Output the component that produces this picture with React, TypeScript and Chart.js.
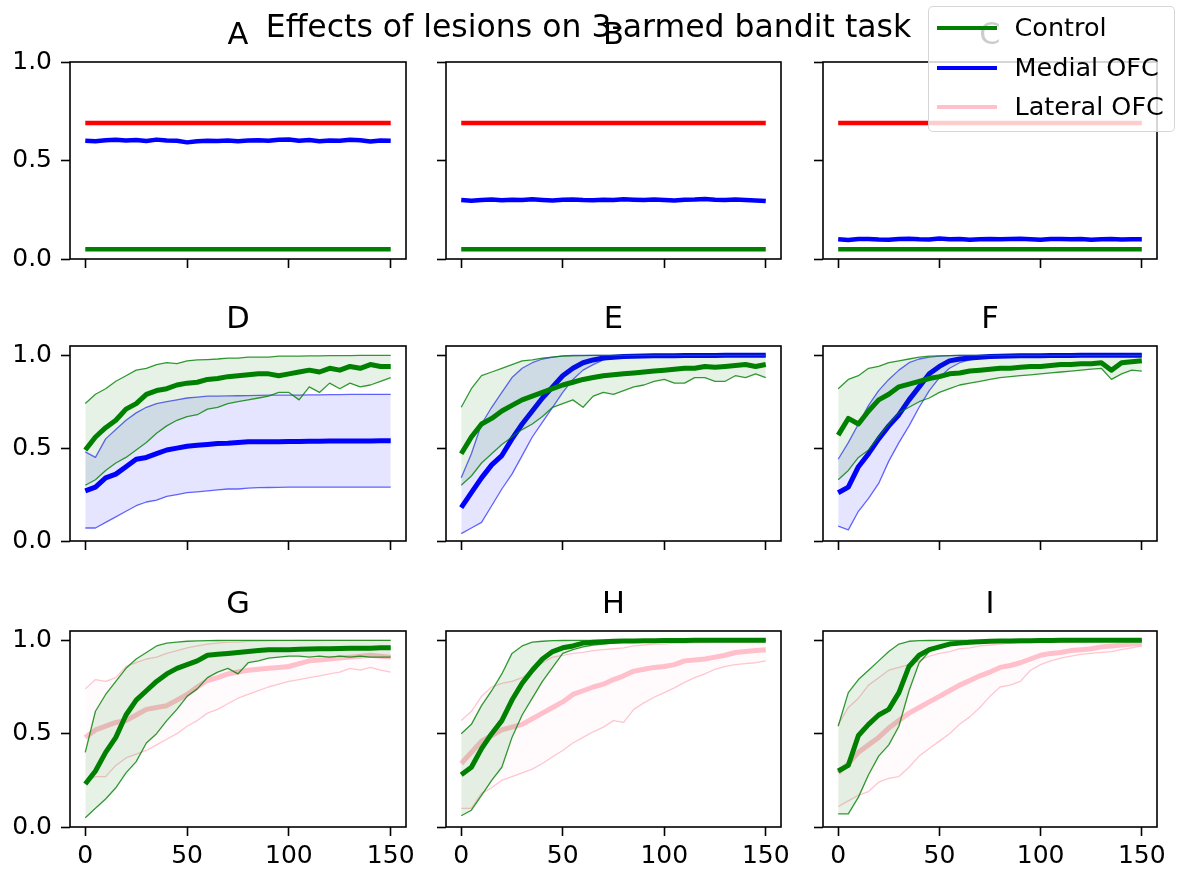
import React, { useEffect, useRef } from "react";
import { Chart, registerables } from "chart.js";

Chart.register(...registerables);

// ---------------- data ----------------
const TRIALS = [
  0, 5, 10, 15, 20, 25, 30, 35, 40, 45, 50,
  55, 60, 65, 70, 75, 80, 85, 90, 95, 100,
  105, 110, 115, 120, 125, 130, 135, 140, 145, 150,
];
const X_TICKS = [0, 50, 100, 150];
const Y_TICKS = [0, 0.5, 1.0];
const PANEL_TITLES = ["A", "B", "C", "D", "E", "F", "G", "H", "I"];
const LEGEND_LABELS = ["Control", "Medial OFC", "Lateral OFC"];
const SUPTITLE = "Effects of lesions on 3-armed bandit task";

// Row 1: arm reward probabilities
const BEST_ARM = [
  0.69, 0.69, 0.69, 0.69, 0.69, 0.69, 0.69, 0.69, 0.69, 0.69, 0.69,
  0.69, 0.69, 0.69, 0.69, 0.69, 0.69, 0.69, 0.69, 0.69, 0.69,
  0.69, 0.69, 0.69, 0.69, 0.69, 0.69, 0.69, 0.69, 0.69, 0.69,
];
const WORST_ARM = [
  0.05, 0.05, 0.05, 0.05, 0.05, 0.05, 0.05, 0.05, 0.05, 0.05, 0.05,
  0.05, 0.05, 0.05, 0.05, 0.05, 0.05, 0.05, 0.05, 0.05, 0.05,
  0.05, 0.05, 0.05, 0.05, 0.05, 0.05, 0.05, 0.05, 0.05, 0.05,
];
const A_MID = [
  0.600, 0.598, 0.603, 0.605, 0.601, 0.604, 0.599, 0.606, 0.601, 0.600, 0.592,
  0.598, 0.600, 0.599, 0.602, 0.598, 0.601, 0.603, 0.600, 0.605, 0.607,
  0.600, 0.604, 0.598, 0.602, 0.600, 0.605, 0.603, 0.596, 0.601, 0.600,
];
const B_MID = [
  0.300, 0.296, 0.300, 0.302, 0.298, 0.301, 0.300, 0.303, 0.300, 0.297, 0.301,
  0.302, 0.299, 0.298, 0.301, 0.300, 0.303, 0.301, 0.300, 0.302, 0.299,
  0.297, 0.301, 0.302, 0.305, 0.301, 0.300, 0.302, 0.299, 0.297, 0.294,
];
const C_MID = [
  0.100, 0.096, 0.101, 0.102, 0.099, 0.098, 0.101, 0.103, 0.100, 0.099, 0.104,
  0.100, 0.101, 0.098, 0.100, 0.102, 0.100, 0.101, 0.103, 0.100, 0.098,
  0.101, 0.102, 0.100, 0.101, 0.098, 0.100, 0.102, 0.099, 0.100, 0.100,
];

// Row 2: Control vs Medial OFC
const D_CTRL_MEAN = [
  0.49, 0.56, 0.61, 0.65, 0.71, 0.74, 0.79, 0.81, 0.82, 0.84, 0.85,
  0.855, 0.87, 0.875, 0.885, 0.89, 0.895, 0.90, 0.90, 0.89, 0.90,
  0.91, 0.92, 0.91, 0.93, 0.92, 0.94, 0.93, 0.95, 0.94, 0.94,
];
const D_CTRL_HI = [
  0.74, 0.79, 0.82, 0.86, 0.89, 0.92, 0.93, 0.95, 0.96, 0.955, 0.97,
  0.975, 0.977, 0.98, 0.985, 0.985, 0.99, 0.99, 0.99, 0.995, 0.995,
  0.996, 0.997, 0.997, 0.998, 0.998, 0.998, 0.999, 0.999, 0.999, 0.999,
];
const D_CTRL_LO = [
  0.30, 0.33, 0.38, 0.42, 0.45, 0.49, 0.53, 0.58, 0.62, 0.65, 0.67,
  0.68, 0.71, 0.72, 0.74, 0.75, 0.76, 0.77, 0.78, 0.80, 0.80,
  0.76, 0.83, 0.80, 0.85, 0.82, 0.85, 0.83, 0.84, 0.86, 0.88,
];
const D_MOFC_MEAN = [
  0.27, 0.29, 0.34, 0.36, 0.40, 0.44, 0.45, 0.47, 0.49, 0.50, 0.51,
  0.515, 0.52, 0.525, 0.526, 0.53, 0.535, 0.535, 0.535, 0.535, 0.536,
  0.536, 0.537, 0.537, 0.538, 0.538, 0.538, 0.539, 0.539, 0.54, 0.54,
];
const D_MOFC_HI = [
  0.48, 0.45, 0.55, 0.60, 0.65, 0.69, 0.72, 0.74, 0.75, 0.76, 0.77,
  0.775, 0.78, 0.78, 0.781, 0.782, 0.783, 0.784, 0.785, 0.785, 0.786,
  0.786, 0.787, 0.787, 0.788, 0.788, 0.789, 0.789, 0.79, 0.79, 0.79,
];
const D_MOFC_LO = [
  0.07, 0.07, 0.10, 0.13, 0.16, 0.19, 0.21, 0.22, 0.24, 0.25, 0.26,
  0.265, 0.27, 0.275, 0.28, 0.28, 0.285, 0.287, 0.288, 0.289, 0.29,
  0.29, 0.29, 0.29, 0.29, 0.29, 0.29, 0.29, 0.29, 0.29, 0.29,
];

const E_CTRL_MEAN = [
  0.47, 0.56, 0.63, 0.66, 0.70, 0.73, 0.76, 0.78, 0.80, 0.82, 0.84,
  0.855, 0.87, 0.88, 0.89, 0.895, 0.90, 0.905, 0.91, 0.915, 0.92,
  0.925, 0.93, 0.93, 0.94, 0.935, 0.94, 0.945, 0.95, 0.94, 0.95,
];
const E_CTRL_HI = [
  0.72, 0.82, 0.89, 0.91, 0.93, 0.95, 0.97, 0.975, 0.985, 0.99, 0.995,
  0.997, 0.998, 0.999, 0.999, 1, 1, 1, 1, 1, 1,
  1, 1, 1, 1, 1, 1, 1, 1, 1, 1,
];
const E_CTRL_LO = [
  0.30, 0.35, 0.42, 0.47, 0.52, 0.56, 0.60, 0.63, 0.67, 0.72, 0.74,
  0.76, 0.72, 0.78, 0.80, 0.79, 0.81, 0.83, 0.84, 0.86, 0.87,
  0.85, 0.85, 0.88, 0.88, 0.86, 0.86, 0.89, 0.88, 0.90, 0.88,
];
const E_MOFC_MEAN = [
  0.18, 0.26, 0.34, 0.41, 0.46, 0.55, 0.63, 0.70, 0.77, 0.83, 0.89,
  0.93, 0.96, 0.975, 0.985, 0.99, 0.993, 0.995, 0.996, 0.997, 0.998,
  0.998, 0.999, 0.999, 0.999, 0.999, 1, 1, 1, 1, 1,
];
const E_MOFC_HI = [
  0.34, 0.47, 0.63, 0.72, 0.80, 0.88, 0.93, 0.96, 0.98, 0.99, 0.997,
  1, 1, 1, 1, 1, 1, 1, 1, 1, 1,
  1, 1, 1, 1, 1, 1, 1, 1, 1, 1,
];
const E_MOFC_LO = [
  0.04, 0.07, 0.10, 0.19, 0.28, 0.36, 0.46, 0.56, 0.64, 0.72, 0.80,
  0.87, 0.92, 0.95, 0.975, 0.985, 0.99, 0.995, 0.997, 0.998, 0.999,
  0.999, 1, 1, 1, 1, 1, 1, 1, 1, 1,
];

const F_CTRL_MEAN = [
  0.57, 0.66, 0.63, 0.70, 0.76, 0.79, 0.83, 0.845, 0.86, 0.875, 0.885,
  0.90, 0.905, 0.915, 0.92, 0.925, 0.93, 0.93, 0.935, 0.94, 0.94,
  0.945, 0.95, 0.95, 0.955, 0.955, 0.96, 0.92, 0.96, 0.965, 0.97,
];
const F_CTRL_HI = [
  0.82, 0.87, 0.89, 0.93, 0.94, 0.96, 0.97, 0.98, 0.99, 0.995, 0.997,
  0.998, 0.999, 1, 1, 1, 1, 1, 1, 1, 1,
  1, 1, 1, 1, 1, 1, 1, 1, 1, 1,
];
const F_CTRL_LO = [
  0.33, 0.38, 0.45, 0.49, 0.56, 0.63, 0.69, 0.72, 0.75, 0.77, 0.80,
  0.82, 0.84, 0.85, 0.86, 0.87, 0.88, 0.885, 0.89, 0.895, 0.90,
  0.905, 0.91, 0.915, 0.92, 0.925, 0.93, 0.87, 0.90, 0.92, 0.915,
];
const F_MOFC_MEAN = [
  0.26, 0.29, 0.40, 0.47, 0.55, 0.62, 0.68, 0.76, 0.83, 0.90, 0.94,
  0.97, 0.98, 0.985, 0.99, 0.993, 0.995, 0.996, 0.997, 0.998, 0.998,
  0.999, 0.999, 0.999, 1, 1, 1, 1, 1, 1, 1,
];
const F_MOFC_HI = [
  0.44, 0.53, 0.63, 0.73, 0.81, 0.87, 0.92, 0.96, 0.98, 0.99, 0.995,
  0.998, 0.999, 1, 1, 1, 1, 1, 1, 1, 1,
  1, 1, 1, 1, 1, 1, 1, 1, 1, 1,
];
const F_MOFC_LO = [
  0.08, 0.06, 0.16, 0.23, 0.31, 0.43, 0.53, 0.62, 0.72, 0.81, 0.88,
  0.93, 0.96, 0.975, 0.985, 0.99, 0.995, 0.997, 0.998, 0.999, 1,
  1, 1, 1, 1, 1, 1, 1, 1, 1, 1,
];

// Row 3: Control vs Lateral OFC
const G_CTRL_MEAN = [
  0.23, 0.30, 0.40, 0.48, 0.60, 0.68, 0.73, 0.78, 0.82, 0.85, 0.87,
  0.89, 0.92, 0.925, 0.93, 0.935, 0.94, 0.945, 0.95, 0.95, 0.95,
  0.952, 0.954, 0.955, 0.955, 0.956, 0.957, 0.957, 0.958, 0.96, 0.96,
];
const G_CTRL_HI = [
  0.40, 0.62, 0.71, 0.78, 0.85, 0.90, 0.935, 0.97, 0.985, 0.99, 0.995,
  0.997, 0.998, 0.999, 1, 1, 1, 1, 1, 1, 1,
  1, 1, 1, 1, 1, 1, 1, 1, 1, 1,
];
const G_CTRL_LO = [
  0.05, 0.10, 0.15, 0.21, 0.29, 0.35, 0.45, 0.50, 0.57, 0.63, 0.70,
  0.74, 0.80, 0.83, 0.85, 0.82, 0.88, 0.89, 0.905, 0.91, 0.915,
  0.915, 0.91, 0.915, 0.91, 0.915, 0.91, 0.915, 0.91, 0.91, 0.91,
];
const G_LOFC_MEAN = [
  0.48, 0.52, 0.54, 0.56, 0.57, 0.60, 0.63, 0.64, 0.65, 0.68, 0.71,
  0.75, 0.785, 0.80, 0.82, 0.83, 0.84, 0.845, 0.85, 0.855, 0.86,
  0.875, 0.89, 0.895, 0.90, 0.905, 0.91, 0.915, 0.92, 0.915, 0.91,
];
const G_LOFC_HI = [
  0.74, 0.79, 0.78, 0.80, 0.86, 0.88, 0.90, 0.91, 0.93, 0.945, 0.96,
  0.97, 0.98, 0.985, 0.99, 0.99, 0.995, 0.996, 0.997, 0.998, 0.998,
  0.999, 0.999, 0.999, 1, 1, 1, 1, 1, 1, 1,
];
const G_LOFC_LO = [
  0.24, 0.27, 0.27, 0.33, 0.37, 0.39, 0.41, 0.44, 0.47, 0.50, 0.54,
  0.57, 0.61, 0.63, 0.66, 0.69, 0.71, 0.73, 0.75, 0.765, 0.78,
  0.79, 0.80, 0.81, 0.82, 0.83, 0.85, 0.84, 0.855, 0.84, 0.83,
];

const H_CTRL_MEAN = [
  0.28, 0.32, 0.42, 0.50, 0.57, 0.68, 0.77, 0.84, 0.90, 0.94, 0.96,
  0.97, 0.985, 0.99, 0.993, 0.995, 0.996, 0.997, 0.998, 0.998, 0.999,
  0.999, 0.999, 1, 1, 1, 1, 1, 1, 1, 1,
];
const H_CTRL_HI = [
  0.50, 0.55, 0.65, 0.73, 0.82, 0.93, 0.97, 0.99, 0.995, 0.998, 0.999,
  1, 1, 1, 1, 1, 1, 1, 1, 1, 1,
  1, 1, 1, 1, 1, 1, 1, 1, 1, 1,
];
const H_CTRL_LO = [
  0.06, 0.09, 0.17, 0.25, 0.32, 0.48, 0.60, 0.69, 0.78, 0.855, 0.93,
  0.95, 0.965, 0.975, 0.98, 0.985, 0.99, 0.992, 0.994, 0.995, 0.996,
  0.997, 0.998, 0.998, 0.999, 0.999, 1, 1, 1, 1, 1,
];
const H_LOFC_MEAN = [
  0.34, 0.40, 0.46, 0.49, 0.52, 0.535, 0.55, 0.58, 0.61, 0.64, 0.67,
  0.71, 0.73, 0.75, 0.765, 0.79, 0.81, 0.835, 0.845, 0.855, 0.86,
  0.87, 0.89, 0.895, 0.90, 0.91, 0.92, 0.935, 0.94, 0.945, 0.95,
];
const H_LOFC_HI = [
  0.57, 0.62, 0.70, 0.75, 0.77, 0.78, 0.80, 0.84, 0.88, 0.91, 0.92,
  0.93, 0.935, 0.945, 0.95, 0.955, 0.96, 0.97, 0.975, 0.98, 0.98,
  0.985, 0.985, 0.987, 0.988, 0.989, 0.99, 0.99, 0.99, 0.99, 0.99,
];
const H_LOFC_LO = [
  0.10, 0.10, 0.18, 0.21, 0.25, 0.27, 0.29, 0.31, 0.34, 0.376, 0.41,
  0.45, 0.48, 0.51, 0.535, 0.57, 0.56, 0.63, 0.665, 0.695, 0.72,
  0.745, 0.775, 0.80, 0.82, 0.845, 0.86, 0.87, 0.875, 0.88, 0.89,
];

const I_CTRL_MEAN = [
  0.30, 0.33, 0.49, 0.55, 0.60, 0.63, 0.72, 0.86, 0.92, 0.95, 0.965,
  0.98, 0.985, 0.99, 0.993, 0.995, 0.996, 0.997, 0.998, 0.998, 0.999,
  0.999, 1, 1, 1, 1, 1, 1, 1, 1, 1,
];
const I_CTRL_HI = [
  0.54, 0.72, 0.79, 0.84, 0.89, 0.94, 0.98, 0.995, 0.998, 0.999, 1,
  1, 1, 1, 1, 1, 1, 1, 1, 1, 1,
  1, 1, 1, 1, 1, 1, 1, 1, 1, 1,
];
const I_CTRL_LO = [
  0.07, 0.07, 0.16, 0.28, 0.38, 0.44, 0.54, 0.73, 0.88, 0.94, 0.965,
  0.98, 0.985, 0.99, 0.992, 0.994, 0.995, 0.996, 0.997, 0.998, 0.998,
  0.999, 0.999, 1, 1, 1, 1, 1, 1, 1, 1,
];
const I_LOFC_MEAN = [
  0.29, 0.34, 0.40, 0.44, 0.48, 0.53, 0.57, 0.61, 0.64, 0.67, 0.70,
  0.73, 0.76, 0.785, 0.81, 0.83, 0.855, 0.865, 0.88, 0.90, 0.92,
  0.93, 0.935, 0.945, 0.95, 0.955, 0.965, 0.97, 0.975, 0.98, 0.98,
];
const I_LOFC_HI = [
  0.55, 0.64, 0.69, 0.76, 0.80, 0.84, 0.855, 0.87, 0.89, 0.915, 0.93,
  0.94, 0.955, 0.96, 0.97, 0.975, 0.98, 0.985, 0.987, 0.988, 0.99,
  0.99, 0.991, 0.992, 0.993, 0.994, 0.995, 0.995, 0.996, 0.997, 0.997,
];
const I_LOFC_LO = [
  0.11, 0.14, 0.17, 0.19, 0.24, 0.26, 0.27, 0.32, 0.38, 0.42, 0.46,
  0.50, 0.55, 0.59, 0.64, 0.70, 0.75, 0.76, 0.78, 0.84, 0.87,
  0.89, 0.905, 0.915, 0.925, 0.93, 0.935, 0.94, 0.95, 0.96, 0.97,
];

type Group = "ctrl" | "mofc" | "lofc";
type Band = { group: Group; lo: number[]; hi: number[]; mean: number[] };
type PanelSpec =
  | { kind: "flat"; best: number[]; mid: number[]; worst: number[] }
  | { kind: "bands"; bands: Band[] };

const PANELS: PanelSpec[] = [
  { kind: "flat", best: BEST_ARM, mid: A_MID, worst: WORST_ARM },
  { kind: "flat", best: BEST_ARM, mid: B_MID, worst: WORST_ARM },
  { kind: "flat", best: BEST_ARM, mid: C_MID, worst: WORST_ARM },
  { kind: "bands", bands: [
    { group: "ctrl", lo: D_CTRL_LO, hi: D_CTRL_HI, mean: D_CTRL_MEAN },
    { group: "mofc", lo: D_MOFC_LO, hi: D_MOFC_HI, mean: D_MOFC_MEAN },
  ] },
  { kind: "bands", bands: [
    { group: "ctrl", lo: E_CTRL_LO, hi: E_CTRL_HI, mean: E_CTRL_MEAN },
    { group: "mofc", lo: E_MOFC_LO, hi: E_MOFC_HI, mean: E_MOFC_MEAN },
  ] },
  { kind: "bands", bands: [
    { group: "ctrl", lo: F_CTRL_LO, hi: F_CTRL_HI, mean: F_CTRL_MEAN },
    { group: "mofc", lo: F_MOFC_LO, hi: F_MOFC_HI, mean: F_MOFC_MEAN },
  ] },
  { kind: "bands", bands: [
    { group: "ctrl", lo: G_CTRL_LO, hi: G_CTRL_HI, mean: G_CTRL_MEAN },
    { group: "lofc", lo: G_LOFC_LO, hi: G_LOFC_HI, mean: G_LOFC_MEAN },
  ] },
  { kind: "bands", bands: [
    { group: "ctrl", lo: H_CTRL_LO, hi: H_CTRL_HI, mean: H_CTRL_MEAN },
    { group: "lofc", lo: H_LOFC_LO, hi: H_LOFC_HI, mean: H_LOFC_MEAN },
  ] },
  { kind: "bands", bands: [
    { group: "ctrl", lo: I_CTRL_LO, hi: I_CTRL_HI, mean: I_CTRL_MEAN },
    { group: "lofc", lo: I_LOFC_LO, hi: I_LOFC_HI, mean: I_LOFC_MEAN },
  ] },
];

// ---------------- styles / layout ----------------
const FONT = "'DejaVu Sans', 'Liberation Sans', sans-serif";
const RGB: Record<Group, string> = { ctrl: "0,128,0", mofc: "0,0,255", lofc: "255,192,203" };
const EDGE_ALPHA: Record<Group, number> = { ctrl: 0.8, mofc: 0.6, lofc: 0.9 };
const FILL_ALPHA: Record<Group, number> = { ctrl: 0.1, mofc: 0.1, lofc: 0.08 };
const LEGEND_COLORS = ["#008000", "#0000ff", "#ffc0cb"];

const COL_LEFT = [70, 446, 823];
const COL_W = [336, 335, 334];
const ROW_TOP = [62, 346, 631];
const ROW_H = [197, 195, 196];
const Y_MAX = [1, 1.05, 1.05];
const TITLE_SIZE = 30.5;
const TITLE_BLOCK = 41;
const TICK_SIZE = 25;
const RIGHT_PAD = 30;

const spinePlugin = {
  id: "spines",
  afterDraw(chart: any) {
    const { ctx, chartArea } = chart;
    const { left, top, right, bottom } = chartArea;
    ctx.save();
    ctx.strokeStyle = "#000";
    ctx.lineWidth = 1.6;
    ctx.strokeRect(left, top, right - left, bottom - top);
    ctx.restore();
  },
};

function pts(values: number[]) {
  return TRIALS.map((x, i) => ({ x, y: values[i] }));
}

function buildDatasets(spec: PanelSpec): any[] {
  if (spec.kind === "flat") {
    return [
      { data: pts(spec.best), borderColor: "#ff0000", borderWidth: 4.5 },
      { data: pts(spec.mid), borderColor: "#0000ff", borderWidth: 4.5 },
      { data: pts(spec.worst), borderColor: "#008000", borderWidth: 4.5 },
    ];
  }
  const out: any[] = [];
  spec.bands.forEach((b) => {
    const rgb = RGB[b.group];
    out.push({ data: pts(b.lo), borderColor: `rgba(${rgb},${EDGE_ALPHA[b.group]})`, borderWidth: 1.3, fill: false });
    out.push({
      data: pts(b.hi),
      borderColor: `rgba(${rgb},${EDGE_ALPHA[b.group]})`,
      borderWidth: 1.3,
      fill: "-1",
      backgroundColor: `rgba(${rgb},${FILL_ALPHA[b.group]})`,
    });
    out.push({ data: pts(b.mean), borderColor: `rgb(${rgb})`, borderWidth: 5, fill: false });
  });
  return out;
}

function Panel({ index }: { index: number }) {
  const ref = useRef<HTMLCanvasElement>(null);
  const row = Math.floor(index / 3);
  const col = index % 3;
  const lm = col === 0 ? 70 : 36;
  const bm = row === 2 ? 44 : 30;
  const w = lm + COL_W[col] + RIGHT_PAD;
  const h = TITLE_BLOCK + ROW_H[row] + bm;

  useEffect(() => {
    const canvas = ref.current;
    if (!canvas) return;
    const chart = new Chart(canvas, {
      type: "line",
      data: { datasets: buildDatasets(PANELS[index]) },
      options: {
        animation: false,
        responsive: false,
        maintainAspectRatio: false,
        devicePixelRatio: 1,
        layout: { padding: { left: 0, right: RIGHT_PAD, top: 0, bottom: 0 } },
        elements: {
          point: { radius: 0 },
          line: { tension: 0, borderJoinStyle: "round", borderCapStyle: "butt" },
        },
        plugins: {
          legend: { display: false },
          tooltip: { enabled: false },
          title: {
            display: true,
            text: PANEL_TITLES[index],
            color: "#000",
            fullSize: false,
            font: { family: FONT, size: TITLE_SIZE, weight: "normal", lineHeight: 1 },
            padding: { top: 0, bottom: TITLE_BLOCK - TITLE_SIZE },
          },
        },
        scales: {
          x: {
            type: "linear",
            min: -7.5,
            max: 157.5,
            afterBuildTicks: (s: any) => {
              s.ticks = X_TICKS.map((v) => ({ value: v }));
            },
            afterFit: (s: any) => {
              s.height = bm;
            },
            ticks: {
              display: row === 2,
              color: "#000",
              font: { family: FONT, size: TICK_SIZE },
              padding: 5,
              maxRotation: 0,
              autoSkip: false,
              callback: (v: any) => String(v),
            },
            grid: {
              display: true,
              drawOnChartArea: false,
              drawTicks: true,
              tickLength: 9,
              tickWidth: 1.6,
              tickColor: "#000",
            },
            border: { display: false },
          },
          y: {
            type: "linear",
            min: 0,
            max: Y_MAX[row],
            afterBuildTicks: (s: any) => {
              s.ticks = Y_TICKS.map((v) => ({ value: v }));
            },
            afterFit: (s: any) => {
              s.width = lm;
            },
            ticks: {
              display: col === 0,
              color: "#000",
              font: { family: FONT, size: TICK_SIZE },
              padding: 9,
              autoSkip: false,
              callback: (v: any) => Number(v).toFixed(1),
            },
            grid: {
              display: true,
              drawOnChartArea: false,
              drawTicks: true,
              tickLength: 9,
              tickWidth: 1.6,
              tickColor: "#000",
            },
            border: { display: false },
          },
        },
      } as any,
      plugins: [spinePlugin],
    });
    return () => chart.destroy();
  }, [index]);

  return (
    <canvas
      ref={ref}
      width={w}
      height={h}
      style={{
        position: "absolute",
        left: COL_LEFT[col] - lm,
        top: ROW_TOP[row] - TITLE_BLOCK,
        width: w,
        height: h,
      }}
    />
  );
}

const LEGEND_ROW_Y = [22, 62, 101];

export default function App() {
  return (
    <div
      style={{
        position: "absolute",
        left: 0,
        top: 0,
        width: 1177,
        height: 871,
        background: "#fff",
        overflow: "hidden",
        fontFamily: FONT,
      }}
    >
      {PANEL_TITLES.map((_, i) => (
        <Panel key={i} index={i} />
      ))}
      <div
        style={{
          position: "absolute",
          left: 0,
          top: 11,
          width: 1177,
          textAlign: "center",
          fontSize: 31.5,
          lineHeight: "31px",
          color: "#000",
          whiteSpace: "nowrap",
        }}
      >
        {SUPTITLE}
      </div>
      <div
        style={{
          position: "absolute",
          left: 928,
          top: 6,
          width: 247,
          height: 126,
          boxSizing: "border-box",
          background: "rgba(255,255,255,0.8)",
          border: "1.5px solid rgba(204,204,204,0.8)",
          borderRadius: 5,
        }}
      >
        {LEGEND_LABELS.map((label, i) => (
          <React.Fragment key={label}>
            <div
              style={{
                position: "absolute",
                left: 8,
                top: LEGEND_ROW_Y[i] - 2 - 1.5,
                width: 60,
                height: 4,
                background: LEGEND_COLORS[i],
              }}
            />
            <div
              style={{
                position: "absolute",
                left: 85.5,
                top: LEGEND_ROW_Y[i] - 12.5 - 1.5,
                fontSize: 25.5,
                lineHeight: "25.5px",
                color: "#000",
                whiteSpace: "nowrap",
              }}
            >
              {label}
            </div>
          </React.Fragment>
        ))}
      </div>
    </div>
  );
}
